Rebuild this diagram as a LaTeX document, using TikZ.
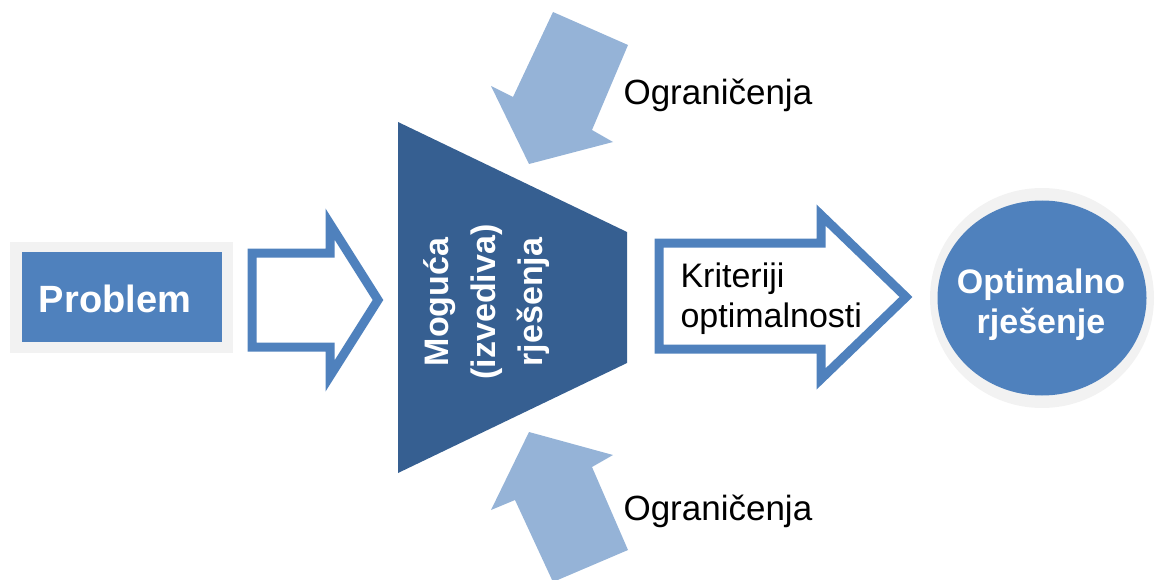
\documentclass[tikz,border=0pt]{standalone}
\usepackage{fontspec}
\setmainfont{Liberation Sans}
\usetikzlibrary{shapes.geometric}
\definecolor{plava}{RGB}{79,129,189}
\definecolor{tamnoplava}{RGB}{54,95,145}
\definecolor{svijetloplava}{RGB}{149,179,215}
\definecolor{sivo}{RGB}{242,242,242}
\tikzset{
    okvir/.style={fill=sivo},
    blok/.style={fill=plava},
    strelica/.style={draw=plava,line width=9pt,fill=white,line join=miter},
    ogranicenje/.style={fill=svijetloplava},
    bijeli/.style={text=white,font=\bfseries\fontsize{34}{40}\selectfont},
    crni/.style={text=black,font=\fontsize{35}{40}\selectfont}
}

\begin{document}
\begin{tikzpicture}[x=1pt,y=-1pt]
\useasboundingbox (0,0) rectangle (1156,580);

% Problem u pravokutniku sa sivim okvirom
\fill[okvir] (10,242) rectangle (233,353);
\node[blok,minimum width=200pt,minimum height=90pt] (problemBlok) at (122,297) {};
\node[bijeli,font=\bfseries\fontsize{38}{46}\selectfont,anchor=base] (problem) at (115,312) {Problem};

% Prva prazna strelica
\draw[strelica] (252,253) -- (330,253) -- (330,224) -- (378,300) -- (330,376) -- (330,347) -- (252,347) -- cycle;

% Trapez s mogucim rjesenjima
\fill[tamnoplava] (398,122) -- (627,232) -- (627,363) -- (398,473) -- cycle;
\node[bijeli,font=\bfseries\fontsize{34}{47}\selectfont,rotate=90,align=center] (moguca) at (487,302) {Moguća\\(izvediva)\\rješenja};

% Ogranicenja odozgo i odozdo
\fill[ogranicenje] (553,12) -- (628,45) -- (592,130) -- (613,142) -- (529,164) -- (491,86) -- (513,97) -- cycle;
\fill[ogranicenje] (529,432) -- (613,455) -- (592,467) -- (628,550) -- (553,582) -- (515,500) -- (491,510) -- cycle;
\node[crni,anchor=base west] (ogrGore) at (620,105) {Ograničenja};
\node[crni,anchor=base west] (ogrDolje) at (620,520) {Ograničenja};

% Druga strelica s kriterijima
\draw[strelica] (659,243) -- (821,243) -- (821,215) -- (906,297) -- (821,379) -- (821,349) -- (659,349) -- cycle;
\node[crni,font=\fontsize{34}{40}\selectfont,align=left,anchor=base west] (kriteriji) at (677,327) {Kriteriji\\optimalnosti};

% Optimalno rjesenje u krugu
\fill[okvir] (1042,298) ellipse[x radius=112,y radius=110];
\node[ellipse,blok,minimum width=209pt,minimum height=195pt,inner sep=0pt] (optimalno) at (1042,298) {};
\node[bijeli,align=center,anchor=base] (optimalnoTekst) at (1041,333) {Optimalno\\rješenje};
\end{tikzpicture}
\end{document}
